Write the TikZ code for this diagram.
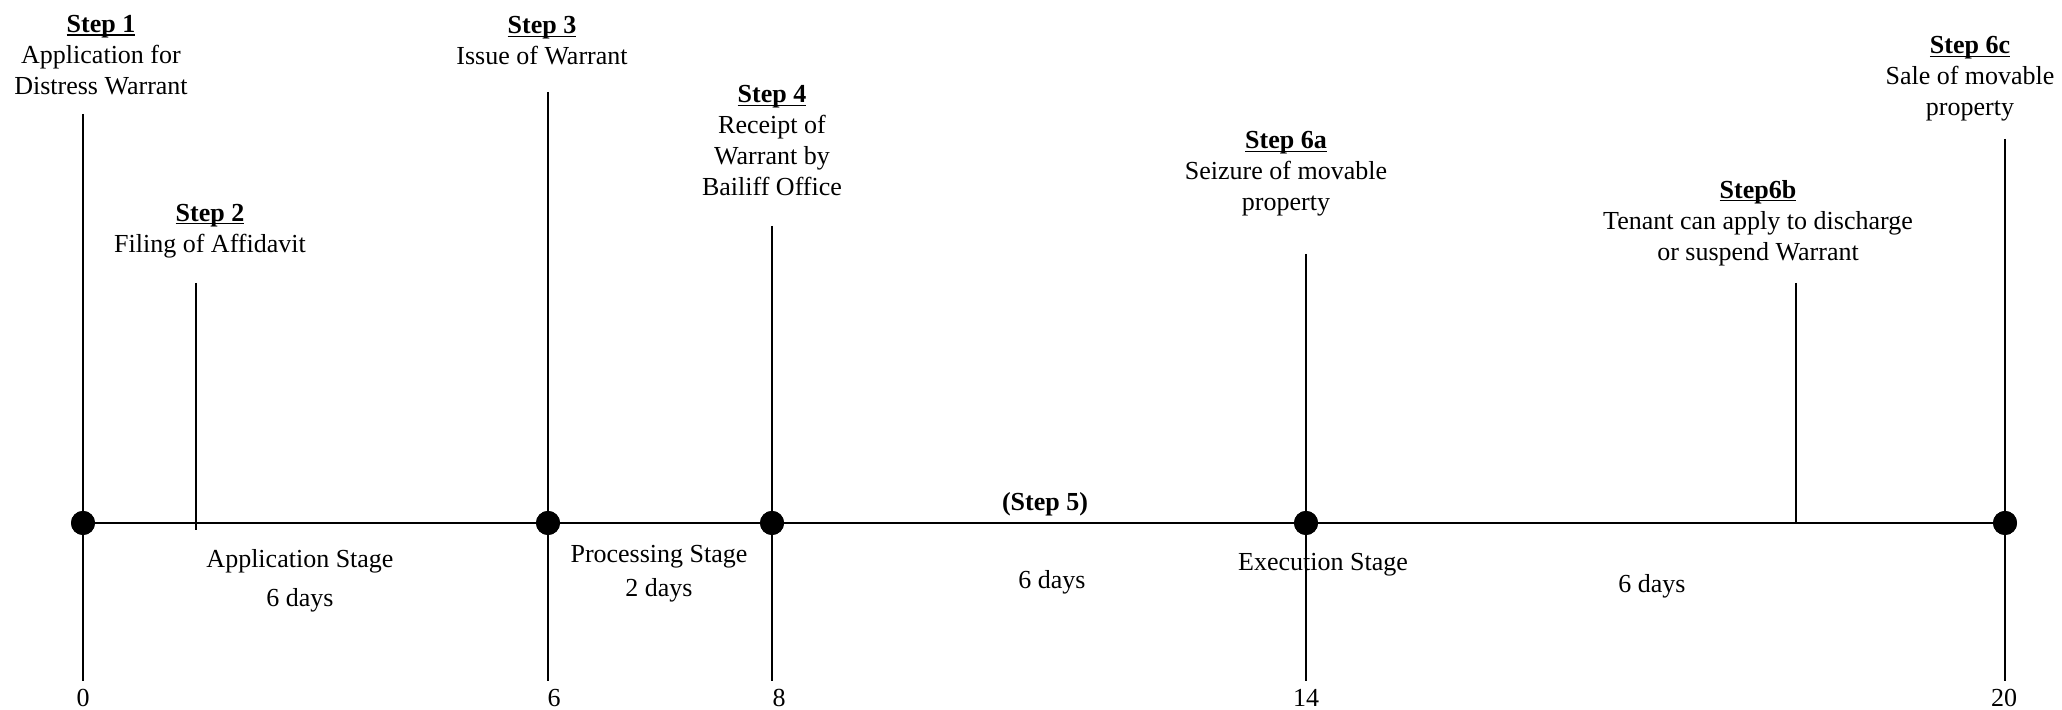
\documentclass[tikz,border=0pt]{standalone}
\usepackage{fontspec}
\setmainfont{Liberation Serif}
\usetikzlibrary{positioning}
\newcommand\ulstep[1]{\setbox0\hbox{\textbf{#1}}\rlap{\rule[-1.6pt]{\wd0}{0.6pt}}\box0}
\begin{document}
\begin{tikzpicture}[x=0.5pt,y=0.5pt,
  every node/.style={font=\fontsize{13}{15.5}\selectfont,align=center,inner sep=1pt},
  dot/.style={circle,fill=black,minimum size=12pt,inner sep=0pt},
  tick/.style={line width=0.8pt},
  axis/.style={line width=1.1pt}]
\useasboundingbox (0,0) rectangle (2062,710);
% main days on the time line
\foreach \n/\x/\t in {0/83/596, 6/548/618, 8/772/484, 14/1306/456, 20/2005/571}{
\coordinate (top\n) at (\x,\t);
\coordinate (bot\n) at (\x,29);
\node[dot] (d\n) at (\x,187) {};
}
\coordinate (topA) at (196,427);
\coordinate (botA) at (196,180);
\coordinate (topB) at (1796,427);
\coordinate (botB) at (1796,187);
\foreach \n in {0,6,8,14,20}{
\draw[tick] (top\n)--(bot\n);
}
\draw[tick] (topA)--(botA);
\draw[tick] (topB)--(botB);
\draw[axis] (d0)--(d6)--(d8)--(d14)--(d20);
\foreach \n/\s in {0/0,6/6,8/7,14/0,20/-1}{
\node[dot] at (d\n) {};
\node[below=3pt of bot\n,xshift=\s*0.5pt] (n\n) {\n};
}
% steps
\node (s1) at (101,655) {\ulstep{Step 1}\\Application for\\Distress Warrant};
\node (s2) at (210,479) {\ulstep{Step 2}\\Filing of Affidavit};
\node (s3) at (542,669) {\ulstep{Step 3}\\Issue of Warrant};
\node (s4) at (772,569) {\ulstep{Step 4}\\Receipt of\\Warrant by\\Bailiff Office};
\node (s6a) at (1286,536) {\ulstep{Step 6a}\\Seizure of movable\\property};
\node (s6b) at (1758,487) {\ulstep{Step6b}\\Tenant can apply to discharge\\or suspend Warrant};
\node (s6c) at (1970,631) {\ulstep{Step 6c}\\Sale of movable\\property};
% stages
\node (s5) at (1045,206) {\textbf{(Step 5)}};
\node[font=\fontsize{13}{19.5}\selectfont] (app) at (300,129) {Application Stage\\6 days};
\node[font=\fontsize{13}{17}\selectfont] (proc) at (659,136) {Processing Stage\\2 days};
\node (days5) at (1052,128) {6 days};
\node (exec) at (1323,145) {Execution Stage};
\node (days6) at (1652,124) {6 days};
\end{tikzpicture}
\end{document}
